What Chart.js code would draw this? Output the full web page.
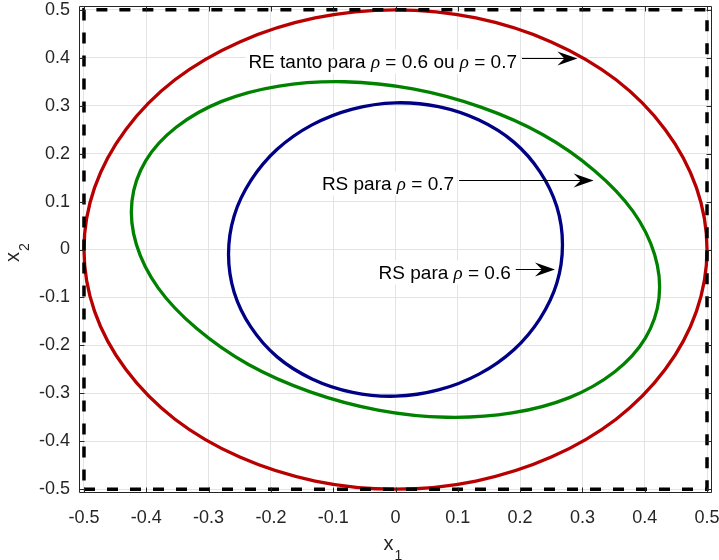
<!DOCTYPE html>
<html>
<head>
<meta charset="utf-8">
<script src="https://cdn.jsdelivr.net/npm/chart.js@4.4.1/dist/chart.umd.min.js"></script>
<style>
  html, body { margin: 0; padding: 0; background: #fff; }
  #wrap { width: 719px; height: 560px; }
</style>
</head>
<body>
<div id="wrap"><canvas id="c" width="719" height="560"></canvas></div>
<script>
// Axis ticks (both axes share the same grid)
const tickValues = [-0.5, -0.4, -0.3, -0.2, -0.1, 0, 0.1, 0.2, 0.3, 0.4, 0.5];
const tickLabels = ['-0.5', '-0.4', '-0.3', '-0.2', '-0.1', '0', '0.1', '0.2', '0.3', '0.4', '0.5'];

// Feasible box |x1|, |x2| <= 0.5
const boxX = [-0.5, 0.5, 0.5, -0.5, -0.5];
const boxY = [-0.5, -0.5, 0.5, 0.5, -0.5];

// RE boundary (same for rho = 0.6 and rho = 0.7)
const reX = [0.5, 0.483, 0.433, 0.354, 0.25, 0.129, 0, -0.129, -0.25, -0.354, -0.433, -0.483,
             -0.5, -0.483, -0.433, -0.354, -0.25, -0.129, 0, 0.129, 0.25, 0.354, 0.433, 0.483];
const reY = [0, 0.129, 0.25, 0.354, 0.433, 0.483, 0.5, 0.483, 0.433, 0.354, 0.25, 0.129,
             0, -0.129, -0.25, -0.354, -0.433, -0.483, -0.5, -0.483, -0.433, -0.354, -0.25, -0.129];

// RS boundary, rho = 0.7
const rs7X = [0.401, 0.423, 0.416, 0.381, 0.319, 0.236, 0.137, 0.028, -0.082, -0.187, -0.279, -0.352,
              -0.401, -0.423, -0.416, -0.381, -0.319, -0.236, -0.137, -0.028, 0.082, 0.187, 0.279, 0.352];
const rs7Y = [-0.185, -0.101, -0.011, 0.080, 0.165, 0.240, 0.297, 0.335, 0.350, 0.341, 0.309, 0.255,
              0.185, 0.101, 0.011, -0.080, -0.165, -0.240, -0.297, -0.335, -0.350, -0.341, -0.309, -0.255];

// RS boundary, rho = 0.6
const rs6X = [0.268, 0.259, 0.232, 0.190, 0.134, 0.069, 0, -0.069, -0.134, -0.190, -0.232, -0.259,
              -0.268, -0.259, -0.232, -0.190, -0.134, -0.069, 0, 0.069, 0.134, 0.190, 0.232, 0.259];
const rs6Y = [0.010, 0.089, 0.162, 0.224, 0.270, 0.298, 0.306, 0.293, 0.260, 0.209, 0.144, 0.070,
              -0.010, -0.089, -0.162, -0.224, -0.270, -0.298, -0.306, -0.293, -0.260, -0.209, -0.144, -0.070];

// Text arrows: label pieces (1 = italic symbol), arrow tail x, arrow head x, arrow y
const notes = [
  [['RE tanto para ', 0], ['\u03C1', 1], [' = 0.6 ou ', 0], ['\u03C1', 1], [' = 0.7', 0]],
  [['RS para ', 0], ['\u03C1', 1], [' = 0.7', 0]],
  [['RS para ', 0], ['\u03C1', 1], [' = 0.6', 0]]
];
const noteTailX = [0.203, 0.102, 0.193];
const noteHeadX = [0.292, 0.318, 0.256];
const noteY = [0.400, 0.146, -0.040];

const pts = (xs, ys) => xs.map((v, i) => ({ x: v, y: ys[i] }));

const INK = '#262626';
const FONT_N = '19px "Liberation Sans", Arial, sans-serif';
const FONT_I = 'italic 19px "Liberation Serif", "Times New Roman", serif';

// Close the smooth curves on themselves (LineElement loop flags, as the radar controller uses)
const closedCurves = {
  id: 'closedCurves',
  beforeDatasetsDraw(chart) {
    chart.data.datasets.forEach((ds, i) => {
      if (!ds.closed) return;
      const line = chart.getDatasetMeta(i).dataset;
      if (!line) return;
      line._loop = true;
      line._fullLoop = true;
      line._pointsUpdated = false;
      line._segments = undefined;
      line._path = undefined;
      line.updateControlPoints(chart.chartArea, 'x');
    });
  }
};

// Axes box with inward tick marks on all four sides
const axesFrame = {
  id: 'axesFrame',
  afterDatasetsDraw(chart) {
    const { ctx, chartArea: a, scales: { x, y } } = chart;
    const L = Math.round(a.left) + 0.5, R = Math.round(a.right) - 0.5;
    const T = Math.round(a.top) + 0.5, B = Math.round(a.bottom) - 0.5;
    ctx.save();
    ctx.strokeStyle = INK;
    ctx.lineWidth = 1;
    ctx.beginPath();
    ctx.rect(L, T, R - L, B - T);
    tickValues.forEach(v => {
      const px = Math.round(x.getPixelForValue(v)) + 0.5;
      ctx.moveTo(px, B); ctx.lineTo(px, B - 5);
      ctx.moveTo(px, T); ctx.lineTo(px, T + 5);
      const py = Math.round(y.getPixelForValue(v)) + 0.5;
      ctx.moveTo(L, py); ctx.lineTo(L + 5, py);
      ctx.moveTo(R, py); ctx.lineTo(R - 5, py);
    });
    ctx.stroke();
    ctx.restore();
  }
};

// Labels with arrows pointing at each boundary
const textArrows = {
  id: 'textArrows',
  afterDatasetsDraw(chart) {
    const { ctx, scales: { x, y } } = chart;
    ctx.save();
    notes.forEach((parts, i) => {
      const tx = x.getPixelForValue(noteTailX[i]);
      const hx = x.getPixelForValue(noteHeadX[i]);
      const py = Math.round(y.getPixelForValue(noteY[i])) + 0.5;
      let w = 0;
      parts.forEach(p => { ctx.font = p[1] ? FONT_I : FONT_N; w += ctx.measureText(p[0]).width; });
      const right = tx - 5, left = right - w, base = py + 9;
      ctx.fillStyle = '#fff';
      ctx.fillRect(left - 3, base - 18, w + 6, 24);
      ctx.fillStyle = '#000';
      ctx.textAlign = 'left';
      ctx.textBaseline = 'alphabetic';
      let cx = left;
      parts.forEach(p => {
        ctx.font = p[1] ? FONT_I : FONT_N;
        ctx.fillText(p[0], cx, base);
        cx += ctx.measureText(p[0]).width;
      });
      // shaft
      ctx.strokeStyle = '#000';
      ctx.lineWidth = 1;
      ctx.beginPath();
      ctx.moveTo(tx, py);
      ctx.lineTo(hx - 12, py);
      ctx.stroke();
      // head
      ctx.beginPath();
      ctx.moveTo(hx, py);
      ctx.lineTo(hx - 20, py - 7);
      ctx.lineTo(hx - 13, py);
      ctx.lineTo(hx - 20, py + 7);
      ctx.closePath();
      ctx.fill();
    });
    ctx.restore();
  }
};

// Axis titles x1 / x2 with subscripts
const axisTitles = {
  id: 'axisTitles',
  afterDraw(chart) {
    const { ctx, chartArea: a } = chart;
    ctx.save();
    ctx.fillStyle = INK;
    ctx.textAlign = 'left';
    ctx.textBaseline = 'alphabetic';
    const big = '20px "Liberation Sans", Arial, sans-serif';
    const small = '14px "Liberation Sans", Arial, sans-serif';
    const cx = (a.left + a.right) / 2;
    ctx.font = big;
    const wx = ctx.measureText('x').width;
    const sx = cx - 12;
    ctx.fillText('x', sx, 550);
    ctx.font = small;
    ctx.fillText('1', sx + wx + 1, 560);
    // vertical title
    ctx.translate(18.5, 262);
    ctx.rotate(-Math.PI / 2);
    ctx.font = big;
    ctx.fillText('x', 0, 0);
    ctx.font = small;
    ctx.fillText('2', wx + 1, 10);
    ctx.restore();
  }
};

const axisCommon = (afterFit) => ({
  type: 'linear',
  min: -0.508,
  max: 0.508,
  afterBuildTicks: s => { s.ticks = tickValues.map(v => ({ value: v })); },
  afterFit,
  ticks: {
    autoSkip: false,
    maxRotation: 0,
    minRotation: 0,
    color: INK,
    font: { family: '"Liberation Sans", Arial, sans-serif', size: 18 },
    callback: (v, i) => tickLabels[i]
  },
  grid: { color: '#e3e3e3', lineWidth: 1, drawTicks: false },
  border: { display: false }
});

const xAxis = axisCommon(s => { s.height = 67; s.paddingLeft = 0; s.paddingRight = 0; });
xAxis.ticks.padding = 14;
const yAxis = axisCommon(s => { s.width = 79; s.paddingTop = 0; s.paddingBottom = 0; });
yAxis.ticks.padding = 9;

new Chart(document.getElementById('c'), {
  type: 'scatter',
  data: {
    datasets: [
      { label: 'Caixa', data: pts(boxX, boxY), showLine: true, borderColor: '#000', borderWidth: 3.5,
        borderDash: [11, 12], pointRadius: 0, tension: 0, order: 0 },
      { label: 'RE', data: pts(reX, reY), showLine: true, borderColor: '#b80000', borderWidth: 3.3,
        pointRadius: 0, tension: 0.34, closed: true, order: 1 },
      { label: 'RS 0.7', data: pts(rs7X, rs7Y), showLine: true, borderColor: '#008200', borderWidth: 3.3,
        pointRadius: 0, tension: 0.34, closed: true, order: 2 },
      { label: 'RS 0.6', data: pts(rs6X, rs6Y), showLine: true, borderColor: '#000085', borderWidth: 3.3,
        pointRadius: 0, tension: 0.34, closed: true, order: 3 }
    ]
  },
  options: {
    responsive: false,
    animation: false,
    events: [],
    layout: { padding: { left: 0, right: 7, top: 6, bottom: 0 } },
    plugins: { legend: { display: false }, tooltip: { enabled: false } },
    scales: { x: xAxis, y: yAxis }
  },
  plugins: [closedCurves, axesFrame, textArrows, axisTitles]
});
</script>
</body>
</html>
